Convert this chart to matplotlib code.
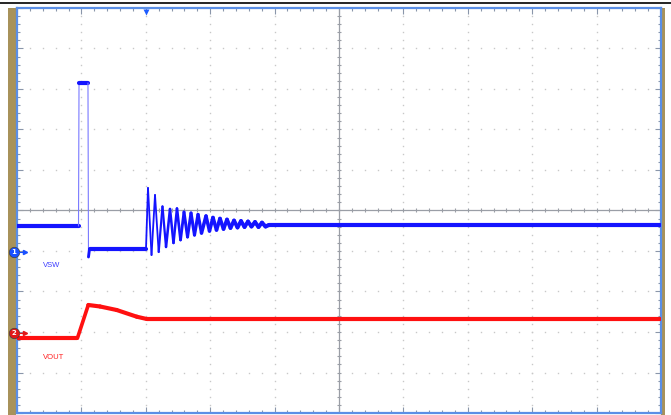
import numpy as np
import matplotlib
matplotlib.use('Agg')
import matplotlib.pyplot as plt
from matplotlib.collections import LineCollection
from matplotlib.patches import Rectangle
from matplotlib.lines import Line2D

# all values are screen divisions: x 0..10 from the left, y 0..10 from the bottom
vsw_t = [0.0, 0.955, 0.963, 1.102, 1.110, 1.126, 2.003]
vsw_v = [4.617, 4.617, 8.148, 8.148, 3.852, 4.049, 4.049]

# ringing after the switch node turns on: alternating peaks and troughs
ring_t = [2.034, 2.089, 2.143, 2.200, 2.259, 2.314, 2.376, 2.430, 2.484, 2.539,
          2.593, 2.648, 2.702, 2.756, 2.811, 2.865, 2.935, 2.989, 3.043, 3.098,
          3.152, 3.207, 3.261, 3.315, 3.370, 3.424, 3.478, 3.533, 3.587, 3.641,
          3.696, 3.750, 3.804, 3.859]
ring_v = [5.556, 3.901, 5.383, 3.975, 5.099, 4.099, 5.037, 4.198, 5.049, 4.272,
          4.963, 4.346, 4.938, 4.395, 4.901, 4.444, 4.864, 4.494, 4.827, 4.519,
          4.802, 4.543, 4.778, 4.568, 4.753, 4.580, 4.741, 4.593, 4.728, 4.605,
          4.716, 4.593, 4.700, 4.605]
vsw_end_t = [3.913, 9.984]
vsw_end_v = [4.642, 4.642]

vout_t = [0.0, 0.939, 1.107, 1.289, 1.548, 1.859, 2.014, 9.984]
vout_v = [1.852, 1.852, 2.667, 2.630, 2.543, 2.378, 2.321, 2.321]

ch1_ground = 3.975
ch2_ground = 1.975
trig_t = 2.0
labels = [("VSW", 0.40, 3.63, "#3a3aff"), ("VOUT", 0.40, 1.36, "#ff2020")]


def draw_trace(ax, t, v, color, light):
    pts = ax.transData.transform(np.column_stack([t, v]))
    segs, widths, colors = [], [], []
    for i in range(len(t) - 1):
        dx = abs(pts[i + 1, 0] - pts[i, 0]) + 1e-9
        dy = abs(pts[i + 1, 1] - pts[i, 1])
        slope = dy / dx
        segs.append([(t[i], v[i]), (t[i + 1], v[i + 1])])
        if slope > 40:
            widths.append(0.8)
            colors.append(light)
        else:
            # noisy band looks thick when flat, thinner on steep ringing
            widths.append(float(np.clip(3.0 - slope * 0.12, 1.3, 3.0)))
            colors.append(color)
    lc = LineCollection(segs, linewidths=widths, colors=colors,
                        capstyle='round', joinstyle='round', zorder=5)
    ax.add_collection(lc)


fig = plt.figure(figsize=(6.71, 4.15), dpi=100, facecolor='white')
W, H = 671, 415
ax = fig.add_axes([17 / W, 2 / H, 644 / W, 405 / H])
ax.set_xlim(0, 10)
ax.set_ylim(0, 10)
ax.set_facecolor('white')

# frame decorations of the scope screen
fig.add_artist(Line2D([0, 1], [1 - 3 / H, 1 - 3 / H], color='black', lw=1.2))
fig.add_artist(Rectangle((8 / W, 0), 8 / W, 407 / H, color='#a8925a', lw=0, zorder=-1))
fig.add_artist(Rectangle((661 / W, 0), 4 / W, 407 / H, color='#a8925a', lw=0, zorder=-1))

for s in ax.spines.values():
    s.set_color('#5b8fe6')
    s.set_linewidth(1.6)

ax.set_xticks(np.arange(0, 11, 1))
ax.set_yticks(np.arange(0, 11, 1))
ax.set_xticks(np.arange(0, 10.01, 0.2), minor=True)
ax.set_yticks(np.arange(0, 10.01, 0.2), minor=True)
ax.tick_params(which='both', direction='in', top=True, right=True,
               labelbottom=False, labelleft=False, color='#8a96aa', width=0.8)
ax.tick_params(which='major', length=4)
ax.tick_params(which='minor', length=2.5)

# dotted graticule
minor = np.arange(0.2, 10, 0.2)
for g in range(1, 10):
    if g == 5:
        continue
    ax.plot(np.full_like(minor, g), minor, ls='none', marker='s', ms=1.0,
            mfc='#c8c8c8', mec='none', zorder=1)
    ax.plot(minor, np.full_like(minor, g), ls='none', marker='s', ms=1.0,
            mfc='#c8c8c8', mec='none', zorder=1)

# centre cross with small ticks
ax.axhline(5, color='#9a9ea6', lw=0.9, zorder=2)
ax.axvline(5, color='#9a9ea6', lw=0.9, zorder=2)
ax.plot(minor, np.full_like(minor, 5), ls='none', marker='|', ms=3,
        mec='#9a9ea6', mew=0.8, zorder=2)
ax.plot(np.full_like(minor, 5), minor, ls='none', marker='_', ms=3,
        mec='#9a9ea6', mew=0.8, zorder=2)

vsw_all_t = vsw_t + ring_t + vsw_end_t
vsw_all_v = vsw_v + ring_v + vsw_end_v
draw_trace(ax, vsw_all_t, vsw_all_v, '#1414ff', '#7a7aff')
draw_trace(ax, vout_t, vout_v, '#ff1010', '#ff3030')

for text, x, y, c in labels:
    ax.text(x, y, text, color=c, fontsize=5.5, family='Liberation Sans',
            ha='left', va='center')

# channel ground markers
for yg, num, col in [(ch1_ground, '1', '#1a50ff'), (ch2_ground, '2', '#e01818')]:
    ax.plot([-0.054], [yg], marker='o', ms=7.5, mfc=col, mec='#404040', mew=0.5,
            clip_on=False, zorder=8)
    ax.text(-0.054, yg, num, color='white', fontsize=5, fontweight='bold',
            ha='center', va='center', clip_on=False, zorder=9)
    ax.plot([0.03, 0.11], [yg, yg], color=col, lw=0.8, clip_on=False, zorder=8)
    ax.plot([0.12], [yg], marker='>', ms=3, color=col, clip_on=False, zorder=8)

# trigger position marker
ax.plot([trig_t], [9.91], marker='v', ms=5, color='#1e5cff', mec='none',
        clip_on=False, zorder=8)

fig.savefig('out.png', dpi=100, facecolor='white')
